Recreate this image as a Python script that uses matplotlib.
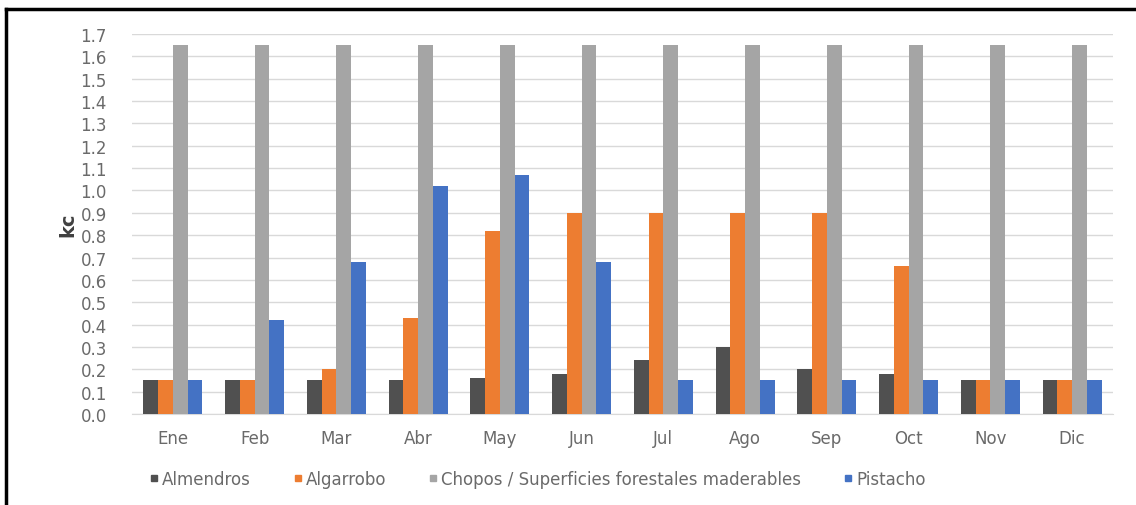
import numpy as np
import matplotlib.pyplot as plt
from matplotlib.lines import Line2D

plt.rcParams['font.family'] = ['DejaVu Sans']

# data
meses = ['Ene', 'Feb', 'Mar', 'Abr', 'May', 'Jun', 'Jul', 'Ago', 'Sep', 'Oct', 'Nov', 'Dic']
almendros = [0.15, 0.15, 0.15, 0.15, 0.16, 0.18, 0.24, 0.30, 0.20, 0.18, 0.15, 0.15]
algarrobo = [0.15, 0.15, 0.20, 0.43, 0.82, 0.90, 0.90, 0.90, 0.90, 0.66, 0.15, 0.15]
chopos = [1.65, 1.65, 1.65, 1.65, 1.65, 1.65, 1.65, 1.65, 1.65, 1.65, 1.65, 1.65]
pistacho = [0.15, 0.42, 0.68, 1.02, 1.07, 0.68, 0.15, 0.15, 0.15, 0.15, 0.15, 0.15]

series = [almendros, algarrobo, chopos, pistacho]
nombres = ['Almendros', 'Algarrobo', 'Chopos / Superficies forestales maderables', 'Pistacho']
colores = ['#505050', '#ED7D31', '#A5A5A5', '#4472C4']

fig = plt.figure(figsize=(11.36, 5.06), dpi=100)
ax = fig.add_axes([132 / 1136, 1 - 415 / 506, (1113 - 132) / 1136, 380 / 506])

x = np.arange(len(meses))
w = 0.18
for i, (vals, col) in enumerate(zip(series, colores)):
    ax.bar(x + (i - 1.5) * w, vals, width=w, color=col, zorder=3)

ax.set_xlim(-0.5, 11.5)
ax.set_ylim(0, 1.7)
ax.set_yticks(np.arange(0, 1.71, 0.1))
ax.set_yticklabels(['%.1f' % v for v in np.arange(0, 1.71, 0.1)])
ax.set_xticks(x)
ax.set_xticklabels(meses)
ax.grid(axis='y', color='#D9D9D9', linewidth=1, zorder=0)
for s in ['top', 'right', 'left']:
    ax.spines[s].set_visible(False)
ax.spines['bottom'].set_color('#D9D9D9')
ax.tick_params(axis='both', length=0, labelsize=12, colors='#6a6a6a')
ax.tick_params(axis='y', pad=18)
ax.tick_params(axis='x', pad=11)
ax.set_ylabel('kc', fontsize=14, fontweight='bold', color='#404040', labelpad=2)

handles = [Line2D([0], [0], marker='s', linestyle='none', markersize=5,
                  markerfacecolor=c, markeredgecolor=c) for c in colores]
fig.legend(handles, nombres, loc='center', bbox_to_anchor=(536 / 1136, 1 - 480 / 506),
           ncol=4, frameon=False, fontsize=12, labelcolor='#6a6a6a',
           handletextpad=0.0, columnspacing=2.4, handlelength=0.9)

# black frame lines (top and left)
fig.add_artist(Line2D([6 / 1136, 6 / 1136], [0, 1 - 10 / 506], color='black', linewidth=2.5,
                      transform=fig.transFigure))
fig.add_artist(Line2D([6 / 1136, 1], [1 - 10 / 506, 1 - 10 / 506], color='black', linewidth=2.5,
                      transform=fig.transFigure))

fig.savefig('out.png', dpi=100)
